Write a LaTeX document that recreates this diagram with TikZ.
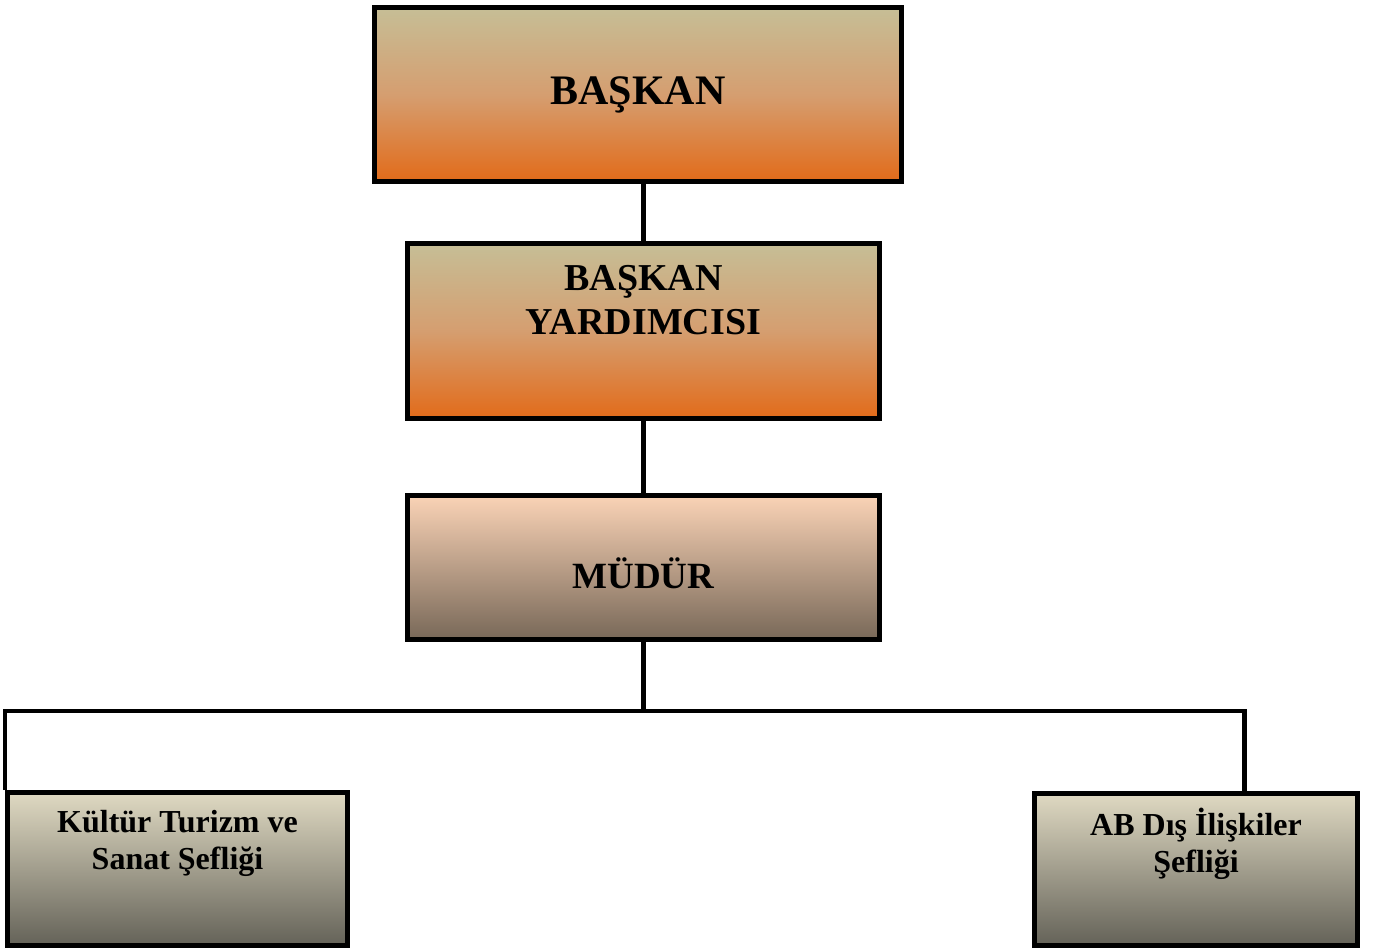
\documentclass[tikz,border=0pt]{standalone}
\usepackage{fontspec}
\setmainfont{Liberation Serif}
\usepackage{xcolor}
\usepackage{tikz}

\definecolor{khaki}{RGB}{198,190,150}
\definecolor{ara}{RGB}{213,158,112}
\definecolor{turuncu}{RGB}{226,107,26}
\definecolor{seftop}{RGB}{250,211,182}
\definecolor{sefbot}{RGB}{120,104,88}
\definecolor{alttop}{RGB}{223,217,194}
\definecolor{altbot}{RGB}{100,98,88}

\tikzset{
    kutu/.style={draw=black, line width=2.75pt, rectangle, align=center, font=\bfseries},
    ustkutu/.style={kutu, top color=khaki, bottom color=turuncu, middle color=ara},
    mudurkutu/.style={kutu, top color=seftop, bottom color=sefbot},
    altkutu/.style={kutu, top color=alttop, bottom color=altbot, font=\bfseries\fontsize{16}{18.5}\selectfont},
    baglanti/.style={line width=2.25pt}
}

\begin{document}
\begin{tikzpicture}[x=0.5pt, y=-0.5pt]
            \useasboundingbox (0,0) rectangle (1374,950);

            \node[ustkutu, minimum width=263.5pt, minimum height=87pt,
                font=\bfseries\fontsize{21}{25}\selectfont] (baskan) at (638, 94.5) {BAŞKAN};
            \node[ustkutu, minimum width=236pt, minimum height=87.5pt, text depth=31pt,
                font=\bfseries\fontsize{19}{22}\selectfont] (yardimci) at (643.5, 331) {BAŞKAN\\YARDIMCISI};
            \node[mudurkutu, minimum width=236pt, minimum height=72pt, text height=21pt,
                font=\bfseries\fontsize{18.5}{22}\selectfont] (mudur) at (643.5, 567.5) {MÜDÜR};
            \node[altkutu, minimum width=170pt, minimum height=76.5pt, text depth=29pt] (kultur) at (177.5, 869) {Kültür Turizm ve\\Sanat Şefliği};
            \node[altkutu, minimum width=161.5pt, minimum height=76pt, text depth=29pt] (ab) at (1196, 869.5) {AB Dış İlişkiler\\Şefliği};

            \coordinate (hat) at (1244.5, 711);

            \draw[baglanti] (yardimci.north |- baskan.south) -- (yardimci.north); % baskan-yardimci
            \draw[baglanti] (yardimci.south) -- (mudur.north); % yardimci-mudur
            \draw[baglanti] (mudur.south) -- (mudur.south |- hat); % mudur-hat
            \draw[baglanti] (kultur.north west) |- (hat) -- (hat |- ab.north); % kultur-ab
        \end{tikzpicture}
\end{document}
